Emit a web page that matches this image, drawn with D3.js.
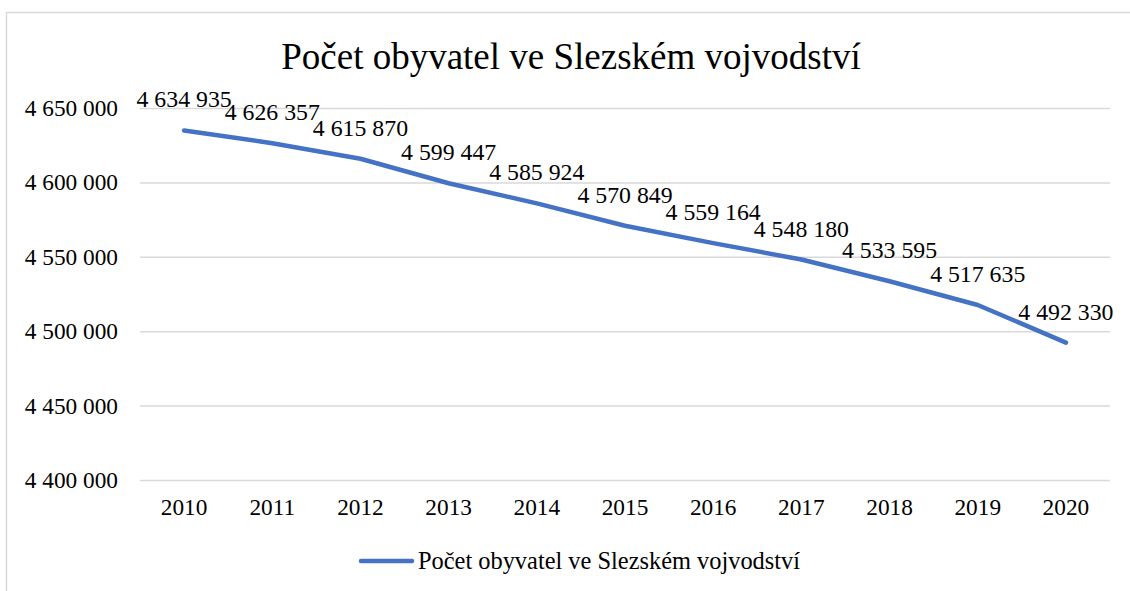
<!DOCTYPE html>
<html><head><meta charset="utf-8">
<script src="https://cdn.jsdelivr.net/npm/d3@7"></script>
<style>body{margin:0;background:#fff}svg{display:block}svg text{font-family:"Liberation Serif","Times New Roman",serif;fill:#000}</style>
</head><body>
<svg id="c" width="1130" height="591"></svg>
<script>
const title = "Počet obyvatel ve Slezském vojvodství";
const seriesName = "Počet obyvatel ve Slezském vojvodství";
const years = ["2010","2011","2012","2013","2014","2015","2016","2017","2018","2019","2020"];
const population = [4634935,4626357,4615870,4599447,4585924,4570849,4559164,4548180,4533595,4517635,4492330];
const yTicks = [4400000,4450000,4500000,4550000,4600000,4650000];

const svg = d3.select("#c");
const fmt = v => d3.format(",")(v).replace(/,/g, " ");
const plot = {left:140, right:1110, top:108, bottom:480};

svg.append("rect").attr("x",6.5).attr("y",12.5).attr("width",1140).attr("height",600)
  .attr("fill","#fff").attr("stroke","#d9d9d9").attr("stroke-width",1.5);

const x = d3.scaleBand().domain(years).range([plot.left, plot.right]);
const y = d3.scaleLinear().domain([4400000,4650000]).range([plot.bottom, plot.top]);

svg.append("text").attr("x",571).attr("y",69).attr("text-anchor","middle")
  .attr("font-size",37).text(title);

const gy = svg.append("g").attr("transform",`translate(${plot.left},0)`)
  .call(d3.axisLeft(y).tickValues(yTicks).tickFormat(fmt).tickSize(-(plot.right-plot.left)).tickPadding(22));
gy.attr("font-family",null);
gy.select(".domain").remove();
gy.selectAll(".tick line").attr("stroke","#d9d9d9").attr("stroke-width",1.5);
gy.selectAll(".tick text").attr("font-size",23.3).attr("fill","#000");

const gx = svg.append("g").attr("transform",`translate(0,${plot.bottom})`)
  .call(d3.axisBottom(x).tickSize(0).tickPadding(18));
gx.attr("font-family",null);
gx.select(".domain").remove();
gx.selectAll(".tick text").attr("font-size",23.3).attr("fill","#000");

const cx = d => x(d) + x.bandwidth()/2;
const line = d3.line().x((d,i)=>cx(years[i])).y(d=>y(d));
svg.append("path").datum(population).attr("d",line).attr("fill","none")
  .attr("stroke","#4472c4").attr("stroke-width",4.5).attr("stroke-linecap","round").attr("stroke-linejoin","round");

svg.append("g").selectAll("text").data(population).join("text")
  .attr("x",(d,i)=>cx(years[i])).attr("y",d=>y(d)-23).attr("text-anchor","middle")
  .attr("font-size",23.8).text(fmt);

const lg = svg.append("g");
lg.append("line").attr("x1",361).attr("x2",412).attr("y1",561).attr("y2",561)
  .attr("stroke","#4472c4").attr("stroke-width",4.5).attr("stroke-linecap","round");
lg.append("text").attr("x",418).attr("y",569).attr("font-size",24.4).text(seriesName);
</script>
</body></html>
